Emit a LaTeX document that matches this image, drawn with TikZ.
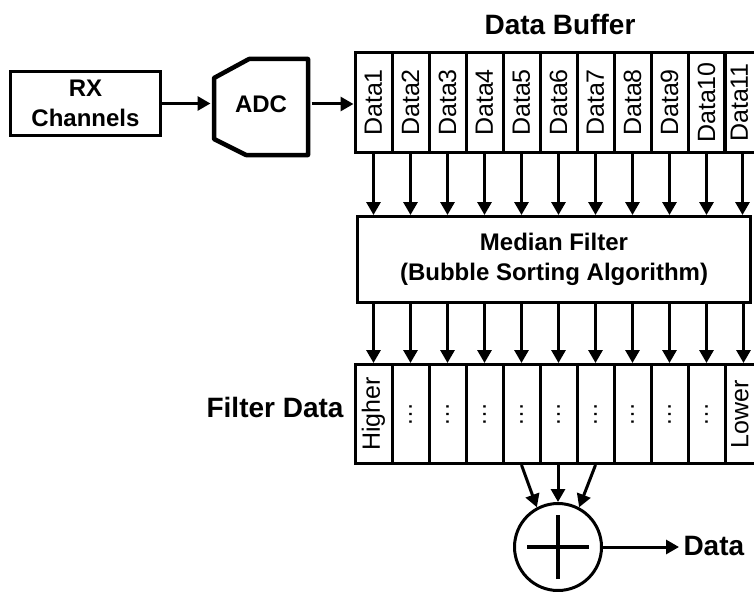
\documentclass[tikz,border=0pt]{standalone}
\usepackage{fontspec}
\setmainfont{Liberation Sans}
\usetikzlibrary{arrows.meta}
\begin{document}
\begin{tikzpicture}[x=1pt,y=-1pt,
  line width=3pt,
  arr/.style={-{Triangle[length=13pt,width=14pt]}, line width=3pt},
  box/.style={draw, line width=3pt, inner sep=0pt},
  cell/.style={draw, line width=3pt, minimum width=37pt, minimum height=100pt, inner sep=0pt},
  fcell/.style={draw, line width=3pt, minimum width=37pt, minimum height=99pt, inner sep=0pt},
  big/.style={font=\fontsize{28}{32}\selectfont\bfseries, inner sep=0pt},
  mid/.style={font=\fontsize{24}{30}\selectfont\bfseries, align=center},
  rot/.style={rotate=90, font=\fontsize{25}{28}\selectfont, inner sep=0pt},
  dots/.style={rotate=90, font=\fontsize{24}{28}\selectfont, inner sep=0pt},
]
\useasboundingbox (0,0) rectangle (754,591);
\clip (0,0) rectangle (754,591);

% RX channels
\node[box, mid, minimum width=150pt, minimum height=64pt] (rx) at (85.5,103.5) {RX\\Channels};

% ADC
\draw[line width=4.5pt, line join=round] (214,78) -- (249,59) -- (308,59) -- (308,155) -- (246,155) -- (214,139) -- cycle;
\node[mid, minimum width=98pt, minimum height=98pt, inner sep=0pt] (adc) at (261,104) {ADC};

% Data buffer
\node[big, anchor=base] (dbl) at (560,35) {Data Buffer};
\foreach \i [evaluate=\i as \x using 355+37*(\i-0.5)] in {1,...,10}
  \node[cell, label={[rot]center:Data\i}] (d\i) at (\x,102.5) {};
\node[cell] (d11) at (742.5,102.5) {};
\node[rot] (d11t) at (739.5,102.5) {Data11};

\draw[arr] (rx.east) -- (rx.east -| adc.west);
\draw[arr] (adc.east) -- (adc.east -| d1.west);

% Median filter
\node[box, mid, minimum width=393pt, minimum height=86pt] (med) at (554,259.5) {Median Filter\\(Bubble Sorting Algorithm)};
\foreach \i in {1,...,11}
  \draw[arr] (d\i.south) -- (d\i.south |- med.north);

% Filter data
\node[big, anchor=base east] (fdl) at (345,417) {Filter Data};
\foreach \i [evaluate=\i as \x using 355+37*(\i-0.5)] in {1,...,11}
  \node[fcell] (f\i) at (\x,414) {};
\node[rot] (hi) at (f1.center) {Higher};
\node[rot] (lo) at ([xshift=-3.5pt]f11.center) {Lower};
\foreach \i in {2,...,10}
  \node[dots] (dt\i) at (f\i.center) {…};
\foreach \i in {1,...,11}
  \draw[arr] (med.south -| f\i.north) -- (f\i.north);

% Summation
\node[draw, circle, line width=3pt, minimum size=87pt, inner sep=0pt] (sum) at (558,547) {};
\draw[line width=4.5pt] ([xshift=-31pt]sum.center) -- ([xshift=31pt]sum.center);
\draw[line width=4.5pt] ([yshift=-32pt]sum.center) -- ([yshift=32pt]sum.center);
\draw[arr] (f5.south) -- (sum.118);
\draw[arr] (sum.north |- f6.south) -- (sum.north);
\draw[arr] (f7.south) -- (sum.62);

% Output
\node[big, anchor=base west, inner sep=3pt] (out) at (679,555) {Data};
\draw[arr] (sum.east) -- (sum.east -| out.west);
\end{tikzpicture}
\end{document}
